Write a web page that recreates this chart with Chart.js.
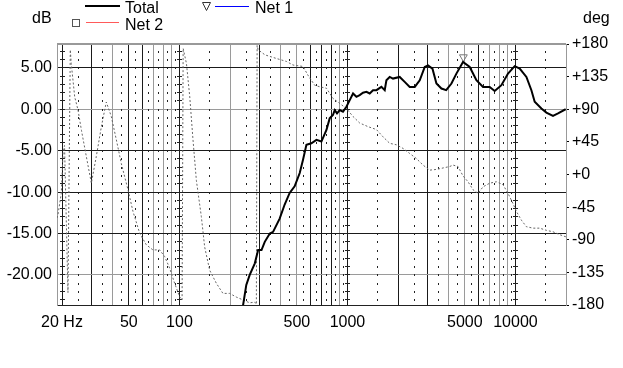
<!DOCTYPE html>
<html>
<head>
<meta charset="utf-8">
<script src="https://cdn.jsdelivr.net/npm/chart.js@4"></script>
<style>
  body { margin: 0; background: #fff; }
  #wrap { width: 623px; height: 368px; }
</style>
</head>
<body>
<div id="wrap"><canvas id="chart" width="623" height="368"></canvas></div>
<script>
// magnitude of the total response (dB)
const freqTotal = [239, 250, 262, 281, 294, 308, 322, 345, 361, 395, 423, 453, 485, 520, 544, 570, 610, 654, 700, 750, 784, 820, 840, 867, 900, 941, 986, 1032, 1080, 1131, 1183, 1238, 1297, 1357, 1420, 1488, 1593, 1667, 1706, 1785, 1868, 2047, 2192, 2348, 2516, 2694, 2885, 3018, 3207, 3387, 3627, 3872, 4160, 4453, 4876, 5345, 5858, 6414, 7028, 7526, 8252, 9034, 9900, 10604, 11624, 12446, 13022, 14276, 15286, 16738, 17932, 19918];
const dbTotal = [-23.7, -21.2, -20.0, -18.6, -17.0, -17.0, -16.0, -15.0, -14.8, -13.2, -11.5, -10.1, -9.3, -7.7, -6.1, -4.3, -4.1, -3.7, -3.9, -2.5, -1.1, -0.7, -0.1, -0.5, -0.1, -0.3, 0.3, 1.1, 1.9, 1.5, 1.7, 2.0, 2.1, 1.9, 2.3, 2.3, 2.7, 2.3, 3.5, 3.9, 3.7, 3.9, 3.3, 2.7, 2.7, 3.5, 5.1, 5.3, 4.9, 3.1, 2.5, 2.3, 3.1, 4.3, 5.7, 5.1, 3.5, 2.7, 2.7, 2.2, 2.9, 4.3, 5.2, 4.9, 3.9, 2.3, 0.9, 0.1, -0.4, -0.8, -0.5, 0.0];

// phase (deg), dotted curve on the right axis
const freqPhase = [18.67, 18.9, 19.8, 20.3, 20.7, 21.7, 22.4, 22.7, 23.8, 24.9, 26.1, 27.9, 29.9, 32.0, 34.3, 36.7, 39.3, 42.1, 45.1, 49.4, 52.9, 58.0, 63.5, 69.5, 76.2, 81.6, 87.4, 93.6, 100.4, 103.7, 105.2, 110.1, 115.2, 120.4, 126.1, 135.0, 141.3, 151.3, 165.8, 181.5, 198.9, 217.8, 239, 262, 281, 287, 290, 294, 323, 378, 433, 474, 544, 582, 639, 684, 750, 820, 900, 986, 1080, 1183, 1326, 1488, 1628, 1785, 1956, 2142, 2348, 2574, 2818, 3088, 3387, 3707, 4062, 4251, 4552, 4876, 5222, 5591, 5988, 6414, 7028, 7704, 8434, 9034, 9672, 10138, 10855, 11624, 12726, 13951, 15286, 16738, 18354, 20000];
const degPhase = [-60, -56, -26, 30, 40, -163, 172, 153, 107, 89, 61, 25, -12, 25, 66, 100, 80, 48, 15, -21, -51, -81, -97, -104, -104, -113, -129, -150, -169, -173, 174, 153, 107, 48, -8, -58, -100, -132, -150, -164, -164, -169, -173, -177, -176, -179, 178, 172, 165, 160, 156, 151, 149, 137, 123, 121, 119, 105, 98, 91, 80, 71, 66, 62, 52, 43, 41, 36, 29, 22, 13, 6, 7, 9, 11, 13, 11, -2, -10, -21, -26, -17, -12, -10, -14, -26, -40, -51, -63, -72, -74, -74, -77, -79, -83, -86];

// Net 1 marker
const net1Freq = [4900];
const net1Db = [6.3];

const xTickValues = [20, 50, 100, 500, 1000, 5000, 10000];
const xTickLabels = ['20 Hz', '50', '100', '500', '1000', '5000', '10000'];
const dbTicks = [-20, -15, -10, -5, 0, 5];
const degTicks = [-180, -135, -90, -45, 0, 45, 90, 135, 180];
const degLabels = ['-180', '-135', '-90', '-45', '+0', '+45', '+90', '+135', '+180'];

// log grid: solid lines at n*10^k, dots at (n+0.5)*10^k
const gridFreqs = [];
const dotFreqs = [];
[10, 100, 1000, 10000].forEach(dec => {
  for (let n = 1; n <= 9; n++) {
    if (n * dec >= 20 && n * dec <= 10000) gridFreqs.push(n * dec);
    if ((n + 0.5) * dec >= 20 && (n + 0.5) * dec < 20000) dotFreqs.push((n + 0.5) * dec);
  }
});
const grayFreqs = [40, 70, 80, 90, 200, 400, 500, 900, 4000, 5000, 7000, 8000, 9000];
const grayDb = [0, -20];

Chart.defaults.font.family = '"Liberation Sans", Arial, sans-serif';
Chart.defaults.font.size = 16;
Chart.defaults.color = '#000';

const gridDecor = {
  id: 'gridDecor',
  beforeDatasetsDraw(chart) {
    const { ctx, chartArea: a, scales: { x, y } } = chart;
    ctx.save();
    ctx.fillStyle = '#222';
    for (let d = -23; d <= 7; d++) {
      const py = Math.round(y.getPixelForValue(d) - 0.5);
      dotFreqs.forEach(f => {
        ctx.fillRect(Math.round(x.getPixelForValue(f) - 0.5), py, 1, 2);
      });
      [20, 100, 1000, 10000].forEach(f => {
        ctx.fillRect(Math.round(x.getPixelForValue(f) - 0.5) - 2, py, 5, 1);
      });
    }
    ctx.fillStyle = '#999';
    ctx.fillRect(a.left, a.top - 1, a.right - a.left, 2);
    ctx.restore();
  }
};

const legendDecor = {
  id: 'legendDecor',
  afterDraw(chart) {
    const ctx = chart.ctx;
    ctx.save();
    ctx.font = '16px "Liberation Sans", Arial, sans-serif';
    ctx.fillStyle = '#000';
    ctx.textBaseline = 'alphabetic';
    ctx.textAlign = 'left';
    ctx.fillText('dB', 32, 23);
    ctx.fillText('deg', 583, 23);

    ctx.lineWidth = 2;
    ctx.strokeStyle = '#000';
    ctx.beginPath(); ctx.moveTo(85, 6); ctx.lineTo(120, 6); ctx.stroke();
    ctx.fillText('Total', 125, 13);

    ctx.lineWidth = 1;
    ctx.strokeStyle = '#333';
    ctx.beginPath(); ctx.moveTo(202.5, 2.5); ctx.lineTo(210.5, 2.5); ctx.lineTo(206.5, 10.5); ctx.closePath(); ctx.stroke();
    ctx.strokeStyle = '#0000ff';
    ctx.beginPath(); ctx.moveTo(215, 6.5); ctx.lineTo(249, 6.5); ctx.stroke();
    ctx.fillText('Net 1', 255, 13);

    ctx.strokeStyle = '#555';
    ctx.strokeRect(72.5, 19.5, 7, 7);
    ctx.strokeStyle = '#ff5a5a';
    ctx.beginPath(); ctx.moveTo(86, 22.5); ctx.lineTo(119, 22.5); ctx.stroke();
    ctx.fillText('Net 2', 125, 30);
    ctx.restore();
  }
};

new Chart(document.getElementById('chart'), {
  type: 'line',
  data: {
    datasets: [{
      label: 'Total',
      data: freqTotal.map((f, i) => ({ x: f, y: dbTotal[i] })),
      borderColor: '#000',
      borderWidth: 2,
      pointRadius: 0,
      yAxisID: 'y',
      order: 0
    }, {
      label: 'Net 1',
      data: net1Freq.map((f, i) => ({ x: f, y: net1Db[i] })),
      borderColor: '#777',
      backgroundColor: 'rgba(0,0,0,0)',
      borderWidth: 1,
      pointStyle: 'triangle',
      rotation: 180,
      pointRadius: 4.5,
      showLine: false,
      yAxisID: 'y',
      order: 1
    }, {
      label: 'Net 2',
      data: [],
      borderColor: '#ff5a5a',
      pointRadius: 0,
      yAxisID: 'y'
    }, {
      label: 'Phase',
      data: freqPhase.map((f, i) => ({ x: f, y: degPhase[i] })),
      borderColor: '#666',
      borderWidth: 1,
      borderDash: [2, 2],
      pointRadius: 0,
      yAxisID: 'y2',
      order: 2
    }]
  },
  options: {
    responsive: false,
    devicePixelRatio: 1,
    animation: false,
    layout: { padding: { top: 44, left: 0, right: 0, bottom: 0 } },
    plugins: {
      legend: { display: false },
      tooltip: { enabled: false }
    },
    scales: {
      x: {
        type: 'logarithmic',
        min: 18.67,
        max: 20000,
        afterBuildTicks: axis => { axis.ticks = gridFreqs.map(v => ({ value: v })); },
        afterFit: axis => { axis.height = 63; },
        ticks: {
          autoSkip: false,
          maxRotation: 0,
          padding: 8,
          callback: value => {
            const i = xTickValues.indexOf(value);
            return i >= 0 ? xTickLabels[i] : '';
          }
        },
        grid: {
          drawTicks: false,
          color: ctx => (ctx.tick && grayFreqs.includes(ctx.tick.value)) ? '#9a9a9a' : '#1a1a1a'
        },
        border: { color: '#222' }
      },
      y: {
        position: 'left',
        min: -23.625,
        max: 7.875,
        afterBuildTicks: axis => { axis.ticks = dbTicks.map(v => ({ value: v })); },
        afterFit: axis => { axis.width = 57; },
        ticks: {
          padding: 5,
          callback: value => value.toFixed(2)
        },
        grid: {
          drawTicks: false,
          color: ctx => (ctx.tick && grayDb.includes(ctx.tick.value)) ? '#9a9a9a' : '#1a1a1a'
        },
        border: { color: '#999' }
      },
      y2: {
        position: 'right',
        min: -180,
        max: 180,
        afterBuildTicks: axis => { axis.ticks = degTicks.map(v => ({ value: v })); },
        afterFit: axis => { axis.width = 57; },
        ticks: {
          padding: 3,
          callback: value => degLabels[degTicks.indexOf(value)]
        },
        grid: {
          drawOnChartArea: false,
          drawTicks: true,
          tickLength: 3,
          color: '#000'
        },
        border: { color: '#999' }
      }
    }
  },
  plugins: [gridDecor, legendDecor]
});
</script>
</body>
</html>
